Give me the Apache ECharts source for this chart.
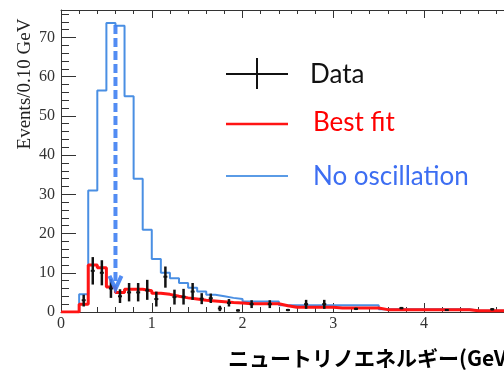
<!DOCTYPE html>
<html>
<head>
<meta charset="utf-8">
<script src="https://cdn.jsdelivr.net/npm/echarts@6/dist/echarts.min.js"></script>
<style>html,body{margin:0;padding:0;background:#fff;}#c{width:504px;height:370px;}</style>
</head>
<body>
<div id="c"></div>
<script>
// Bin lower edges (GeV), bin width 0.1
const binLow = [0.0,0.1,0.2,0.3,0.4,0.5,0.6,0.7,0.8,0.9,
                1.0,1.1,1.2,1.3,1.4,1.5,1.6,1.7,1.8,1.9,
                2.0,2.1,2.2,2.3,2.4,2.5,2.6,2.7,2.8,2.9,
                3.0,3.1,3.2,3.3,3.4,3.5,3.6,3.7,3.8,3.9,
                4.0,4.1,4.2,4.3,4.4,4.5,4.6,4.7,4.8];
const binWidth = 0.1;
// "No oscillation" prediction (events / 0.10 GeV)
const noOsc = [0,0,4.5,31,56.5,73.7,73,55,34,21,
               13.5,10,8.6,7.4,6.2,5.2,4.4,4.0,3.6,3.3,
               2.7,2.7,2.7,2.7,1.7,1.7,1.7,1.7,1.7,1.7,
               1.7,1.7,1.7,1.7,1.7,0.7,0.7,0.7,0.7,0.7,
               0.7,0.7,0.7,0.7,0.7,0.35,0.35,0.35,0.35];
// "Best fit" prediction (events / 0.10 GeV)
const bestFit = [0,0,2,12,11.3,6.4,5,5.8,5.8,5.4,
                 4.8,4.5,4.0,3.6,3.3,3.0,2.8,2.6,2.4,2.3,
                 2.1,2.1,2.1,2.1,1.6,1.2,1.2,1.2,1.2,1.2,
                 1.0,1.0,1.0,1.0,1.0,0.6,0.6,0.6,0.6,0.6,
                 0.6,0.6,0.6,0.6,0.6,0.3,0.3,0.3,0.3];
// Data points: energy, value, error-bar low, error-bar high
const dataE   = [0.25,0.35,0.45,0.55,0.65,0.75,0.85,0.95,1.05,1.15,1.25,1.35,1.45,1.55,1.65,1.75,1.85,1.95,2.1,2.3,2.5,2.7,2.9,3.25,3.75,4.25,4.75];
const dataV   = [3,10.5,10,6,4,5,5,5.5,3.3,9,3.8,3.9,5.2,3.4,3.5,0.9,2.3,0.4,2,2,0.5,2,2,0.8,1.0,0.5,0.7];
const dataLo  = [1.4,7,6.8,3.6,2.3,2.7,2.7,3.1,1.4,6.2,1.9,1.9,3.1,2.0,2.3,0.2,1.4,0.1,1,1,0.2,0.8,0.8,0.5,0.7,0.3,0.4];
const dataHi  = [4.4,14,13.2,8.4,5.8,7.4,7.4,8.2,5.2,11.6,5.7,5.9,7.4,4.8,4.7,1.6,3.3,0.7,3,3,0.8,3.1,3.1,1.1,1.3,0.7,1.0];
// Oscillation-dip arrow: energy, from, to
const arrowE = 0.6, arrowFrom = 73.2, arrowTo = 5.9;
const xTicks = [0,1,2,3,4];
const yTicks = [0,10,20,30,40,50,60,70];

function stepPoints(vals){
  const pts = [];
  for (let i=0;i<binLow.length;i++){
    pts.push([binLow[i], vals[i]]);
    pts.push([+(binLow[i]+binWidth).toFixed(2), vals[i]]);
  }
  return pts;
}

const chart = echarts.init(document.getElementById('c'));
const serif = 'Liberation Serif, Times New Roman, serif';
const axisCol = '#333';
const xMax = 4.88, yMax = 77;

chart.setOption({
  animation:false,
  backgroundColor:'#fff',
  grid:{left:61, top:10, right:0, bottom:58, show:false},
  xAxis:[{
    type:'value', min:0, max:xMax, interval:1, position:'bottom',
    axisLine:{show:true, lineStyle:{color:axisCol, width:1}},
    axisTick:{show:true, inside:true, length:9, lineStyle:{color:axisCol}},
    minorTick:{show:true, splitNumber:5, length:5, lineStyle:{color:axisCol}},
    splitLine:{show:false},
    axisLabel:{show:true, fontFamily:serif, fontSize:16, color:'#333', margin:4, showMaxLabel:false,
      formatter:function(v){return xTicks.indexOf(v)>=0 ? String(v) : '';}}
  },{
    type:'value', min:0, max:xMax, interval:1, position:'top',
    axisLine:{show:true, onZero:false, lineStyle:{color:axisCol, width:1}},
    axisTick:{show:true, inside:true, length:8, lineStyle:{color:axisCol}},
    minorTick:{show:true, splitNumber:5, length:4, lineStyle:{color:axisCol}},
    splitLine:{show:false}, axisLabel:{show:false}
  }],
  yAxis:[{
    type:'value', min:0, max:yMax, interval:10,
    axisLine:{show:true, onZero:false, lineStyle:{color:axisCol, width:1}},
    axisTick:{show:true, inside:true, length:15, lineStyle:{color:axisCol}},
    minorTick:{show:true, splitNumber:5, length:8, lineStyle:{color:axisCol}},
    splitLine:{show:false},
    axisLabel:{fontFamily:serif, fontSize:16, color:'#333', margin:6, showMaxLabel:false,
      formatter:function(v){return yTicks.indexOf(v)>=0 ? String(v) : '';}}
  }],
  series:[
    {type:'line', data:stepPoints(noOsc), showSymbol:false, symbol:'none',
     lineStyle:{color:'#4a8fe3', width:2}, z:2},
    {type:'line', data:stepPoints(bestFit), showSymbol:false, symbol:'none',
     lineStyle:{color:'#ff1414', width:3}, z:3},
    {type:'custom', z:5,
     data:dataE.map((e,i)=>[e, dataV[i], dataLo[i], dataHi[i]]),
     renderItem:function(params, api){
       const c = api.coord([api.value(0), api.value(1)]);
       const lo = api.coord([api.value(0), api.value(2)]);
       const hi = api.coord([api.value(0), api.value(3)]);
       return {type:'group', children:[
         {type:'line', shape:{x1:lo[0], y1:lo[1], x2:hi[0], y2:hi[1]}, style:{stroke:'#111', lineWidth:2.5}},
         {type:'line', shape:{x1:c[0]-2, y1:c[1], x2:c[0]+2, y2:c[1]}, style:{stroke:'#111', lineWidth:2}}
       ]};
     }},
    {type:'custom', z:6,
     data:[[arrowE, arrowFrom, arrowTo]],
     renderItem:function(params, api){
       const a = api.coord([api.value(0), api.value(1)]);
       const b = api.coord([api.value(0), api.value(2)]);
       return {type:'group', children:[
         {type:'line', shape:{x1:a[0], y1:a[1], x2:b[0], y2:b[1]-3},
          style:{stroke:'#3f7ff2', lineWidth:4, lineDash:[9,4], opacity:0.9}},
         {type:'polyline', shape:{points:[[b[0]-6,b[1]-13],[b[0],b[1]],[b[0]+6,b[1]-13]]},
          style:{stroke:'#3f7ff2', lineWidth:4, fill:null, opacity:0.9}}
       ]};
     }}
  ],
  graphic:[
    {type:'text', x:25, y:84, rotation:Math.PI/2,
     style:{text:'Events/0.10 GeV', font:'19px '+serif, fill:'#222', textAlign:'center', textVerticalAlign:'middle'}},
    {type:'text', x:228, y:358,
     style:{text:'ニュートリノエネルギー(GeV)', font:'bold 21px "Noto Sans CJK JP"', fill:'#000', textAlign:'left', textVerticalAlign:'middle'}},
    // legend
    {type:'line', shape:{x1:226, y1:74, x2:288, y2:74}, style:{stroke:'#111', lineWidth:2}},
    {type:'line', shape:{x1:257, y1:58, x2:257, y2:89}, style:{stroke:'#111', lineWidth:2}},
    {type:'text', x:310, y:75, style:{text:'Data', font:'26px Lato', fill:'#111', textVerticalAlign:'middle'}},
    {type:'line', shape:{x1:226, y1:124, x2:288, y2:124}, style:{stroke:'#ff1414', lineWidth:2.5}},
    {type:'text', x:313, y:123, style:{text:'Best fit', font:'26px Lato', fill:'#ff0000', textVerticalAlign:'middle'}},
    {type:'line', shape:{x1:226, y1:176, x2:288, y2:176}, style:{stroke:'#5a9be6', lineWidth:2}},
    {type:'text', x:313, y:177, style:{text:'No oscillation', font:'26px Lato', fill:'#3d6ef2', textVerticalAlign:'middle'}}
  ]
});
</script>
</body>
</html>
